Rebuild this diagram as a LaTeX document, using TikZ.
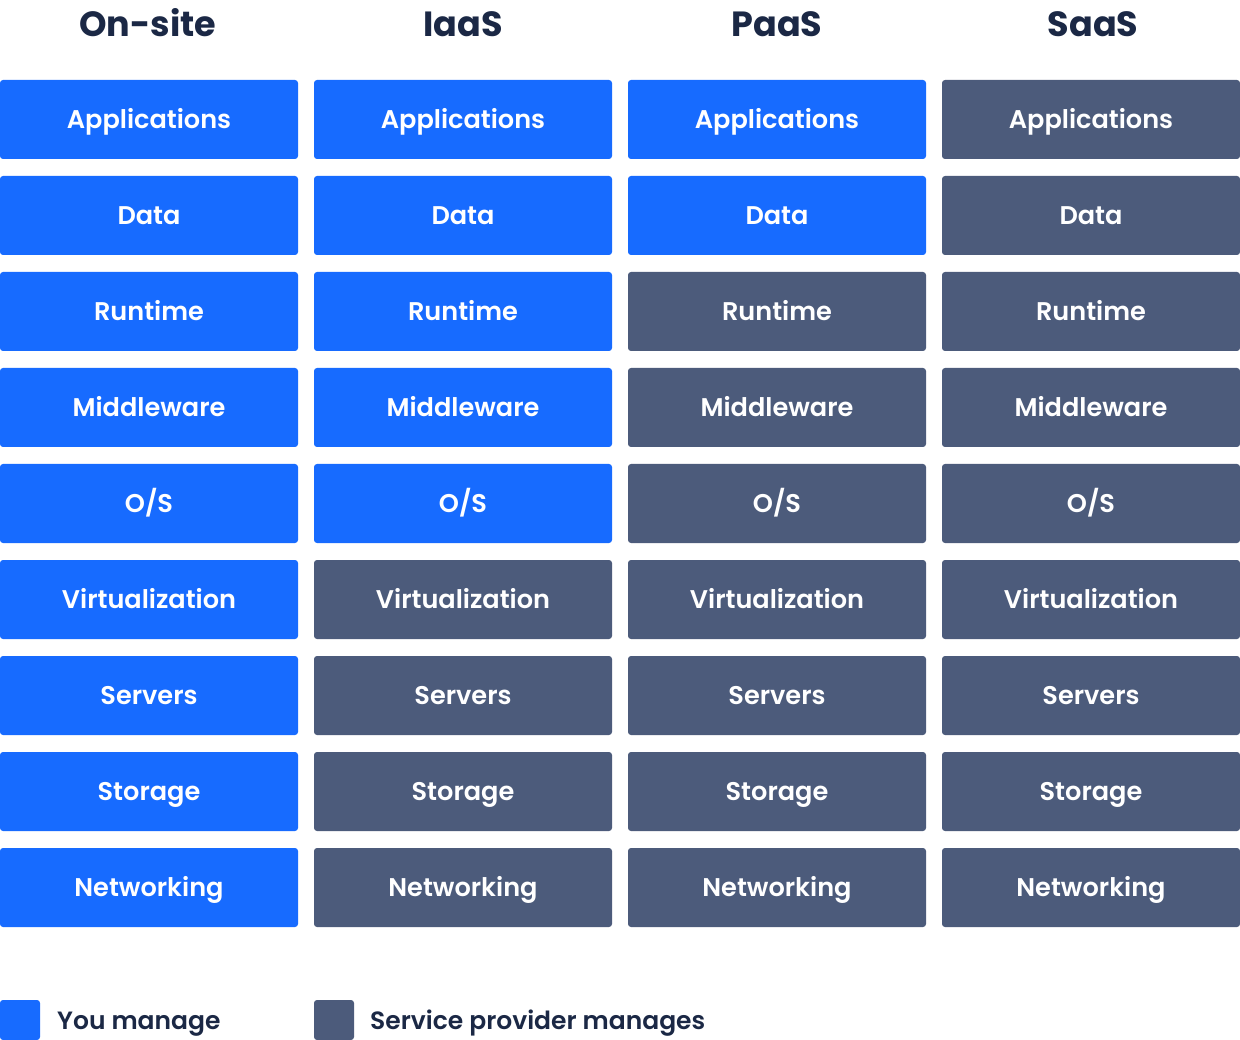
\documentclass[tikz,border=0pt]{standalone}
\usepackage{fontspec}
\setmainfont{Poppins}
\newfontfamily\boxfont{Poppins SemiBold}
\newfontfamily\headfont{Poppins Bold}
\definecolor{ublue}{HTML}{176BFF}
\definecolor{pgray}{HTML}{4C5B7B}
\definecolor{ink}{HTML}{1B2845}
\tikzset{
  cell/.style={rectangle, rounded corners=3pt, minimum width=298pt, minimum height=79pt,
    inner sep=0pt, text=white, font=\boxfont\fontsize{25.6}{25.6}\selectfont,
    text height=18pt, text depth=0pt},
  you/.style={cell, fill=ublue},
  prov/.style={cell, fill=pgray},
  head/.style={anchor=base, text=ink, font=\headfont\fontsize{35}{35}\selectfont, inner sep=0pt},
  legbox/.style={rectangle, rounded corners=3pt, minimum width=40pt, minimum height=40pt, inner sep=0pt},
  legtext/.style={anchor=base west, text=ink, font=\boxfont\fontsize{25}{25}\selectfont, inner sep=0pt}
}
\begin{document}
\begin{tikzpicture}[x=1pt,y=-1pt]
\useasboundingbox (0,0) rectangle (1240,1040);
% headers
\node[head] (h0) at (148,37) {On-site};
\node[head] (h1) at (463,37) {IaaS};
\node[head] (h2) at (777,37) {PaaS};
\node[head] (h3) at (1093,37) {SaaS};
% cells
\foreach \name [count=\j from 0] in {Applications,Data,Runtime,Middleware,O/S,Virtualization,Servers,Storage,Networking}{
  \foreach \i/\lim in {0/9,1/5,2/2,3/0}{
    \pgfmathsetmacro{\cx}{314*\i+149}
    \pgfmathsetmacro{\cy}{80+96*\j+39.5}
    \ifnum\j<\lim
      \node[you] (c-\i-\j) at (\cx,\cy) {\name};
    \else
      \node[prov] (c-\i-\j) at (\cx,\cy) {\name};
    \fi
  }
}
% legend
\node[legbox, fill=ublue] (l0) at (20,1020) {};
\node[legtext] (t0) at (57,1029) {You manage};
\node[legbox, fill=pgray] (l1) at (334,1020) {};
\node[legtext] (t1) at (370,1029) {Service provider manages};
\end{tikzpicture}
\end{document}
